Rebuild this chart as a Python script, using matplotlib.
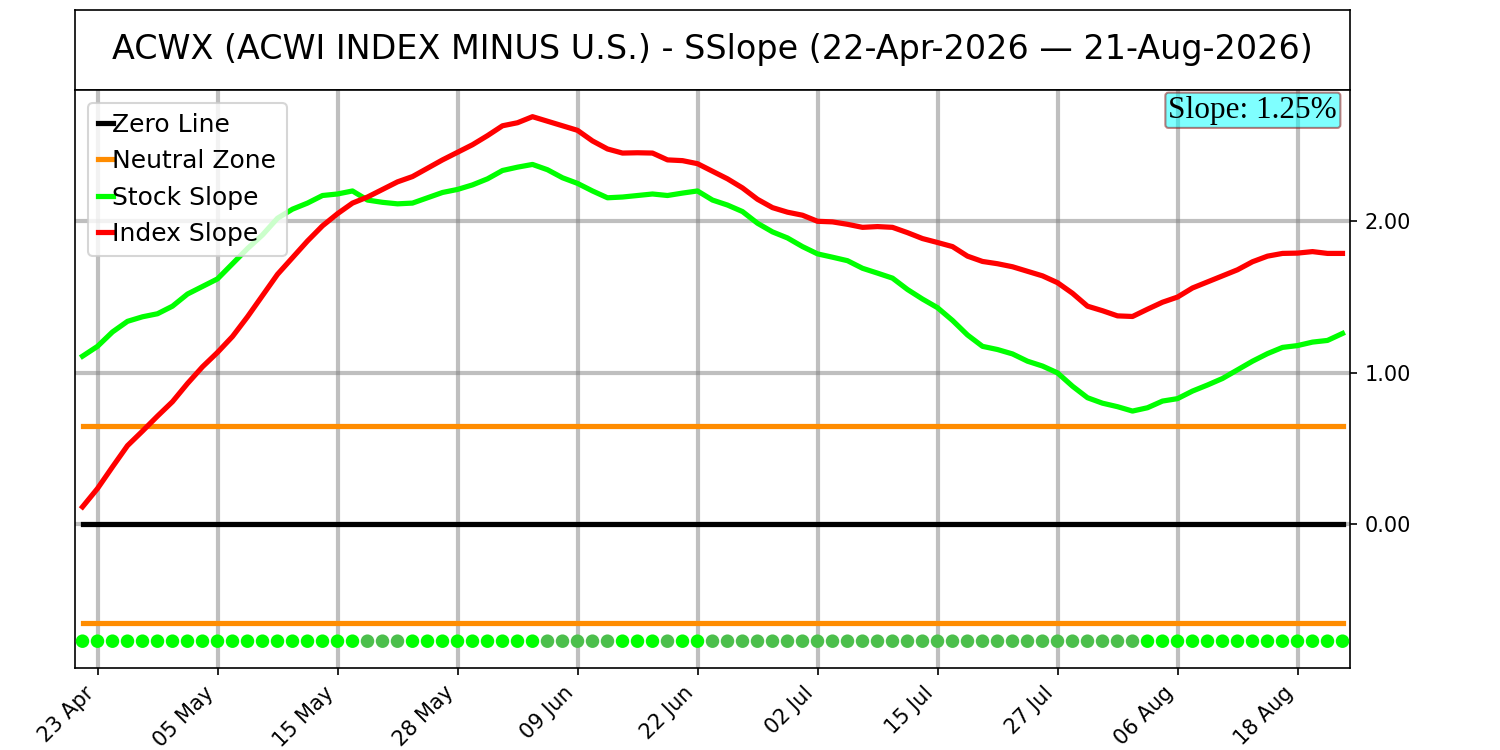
import numpy as np
import pandas as pd
import matplotlib
matplotlib.use("Agg")
import matplotlib.pyplot as plt

# Handelstage 22-Apr-2026 bis 21-Aug-2026 (ohne US-Feiertage)
holidays = ["2026-05-25", "2026-06-19", "2026-07-03"]
dates = pd.bdate_range("2026-04-22", "2026-08-21")
dates = dates[~dates.isin(pd.to_datetime(holidays))]

stock_slope = [
    1.11, 1.175, 1.27, 1.34, 1.37, 1.39, 1.44, 1.52, 1.57, 1.62,
    1.72, 1.82, 1.91, 2.02, 2.08, 2.12, 2.17, 2.18, 2.20, 2.14,
    2.125, 2.115, 2.12, 2.155, 2.19, 2.21, 2.24, 2.28, 2.335, 2.357,
    2.375, 2.34, 2.287, 2.25, 2.20, 2.155, 2.16, 2.17, 2.18, 2.17,
    2.186, 2.20, 2.14, 2.107, 2.064, 1.987, 1.93, 1.89, 1.833, 1.785,
    1.763, 1.74, 1.69, 1.658, 1.625, 1.55, 1.487, 1.43, 1.346, 1.25,
    1.175, 1.154, 1.125, 1.077, 1.045, 1.00, 0.912, 0.836, 0.80, 0.777,
    0.748, 0.77, 0.814, 0.83, 0.88, 0.92, 0.963, 1.02, 1.077, 1.127,
    1.168, 1.18, 1.203, 1.214, 1.26,
]
index_slope = [
    0.116, 0.237, 0.38, 0.52, 0.616, 0.715, 0.81, 0.93, 1.04, 1.135,
    1.24, 1.37, 1.51, 1.65, 1.76, 1.87, 1.97, 2.05, 2.12, 2.16,
    2.21, 2.26, 2.295, 2.35, 2.405, 2.455, 2.505, 2.565, 2.63, 2.65,
    2.69, 2.66, 2.63, 2.60, 2.53, 2.477, 2.45, 2.452, 2.45, 2.405,
    2.40, 2.38, 2.33, 2.28, 2.22, 2.145, 2.09, 2.06, 2.04, 2.00,
    1.996, 1.98, 1.96, 1.965, 1.96, 1.925, 1.886, 1.86, 1.833, 1.77,
    1.735, 1.72, 1.70, 1.67, 1.64, 1.595, 1.525, 1.44, 1.41, 1.376,
    1.372, 1.42, 1.466, 1.50, 1.56, 1.60, 1.64, 1.68, 1.733, 1.77,
    1.788, 1.79, 1.80, 1.788, 1.788,
]
neutral = 0.65
dot_level = -0.77
slope_text = "Slope: 1.25%"
title = "ACWX (ACWI INDEX MINUS U.S.) - SSlope (22-Apr-2026 \u2014 21-Aug-2026)"

x = np.arange(len(dates))
stock = np.array(stock_slope)
index = np.array(index_slope)

# Punktfarbe: hellgruen wenn Stock Slope steigt, dunkler wenn faellt
rising = np.concatenate([[True], np.diff(stock) >= 0])
dot_colors = np.where(rising, "#00ff00", "#4cbf4c")

fig = plt.figure(figsize=(10, 5), dpi=150)

# Titel-Kasten
tax = fig.add_axes([0.05, 0.88, 0.85, 0.1067])
tax.set_xticks([])
tax.set_yticks([])
tax.text(0.5, 0.5, title, ha="center", va="center", fontsize=16, transform=tax.transAxes)

ax = fig.add_axes([0.05, 0.1093, 0.85, 0.7707])
ax.grid(True, color="gray", alpha=0.5, linewidth=2)
ax.set_axisbelow(True)

ax.plot(x, np.zeros_like(x, dtype=float), color="black", linewidth=2.5, label="Zero Line")
ax.plot(x, np.full(len(x), neutral), color="darkorange", linewidth=2.5, label="Neutral Zone")
ax.plot(x, np.full(len(x), -neutral), color="darkorange", linewidth=2.5)
ax.plot(x, stock, color="#00ff00", linewidth=2.5, label="Stock Slope")
ax.plot(x, index, color="red", linewidth=2.5, label="Index Slope")
ax.scatter(x, np.full(len(x), dot_level), c=dot_colors, s=30, zorder=3)

ax.set_xlim(-0.5, len(x) - 0.5)
ax.set_ylim(-0.947, 2.866)

ticks = x[1::8]
ax.set_xticks(ticks)
ax.set_xticklabels([dates[i].strftime("%d %b") for i in ticks], rotation=45, ha="right")
ax.yaxis.tick_right()
ax.set_yticks([0, 1, 2])
ax.set_yticklabels(["%.2f" % v for v in [0, 1, 2]])

ax.legend(loc="upper left", fontsize=12, handlelength=0.6, handletextpad=0.0)

ax.text(0.99, 0.99, slope_text, transform=ax.transAxes, ha="right", va="top",
        fontsize=15, family="Liberation Serif",
        bbox=dict(boxstyle="round,pad=0.1", facecolor="cyan", edgecolor="darkred", alpha=0.5))

fig.savefig("out.png", dpi=150)
